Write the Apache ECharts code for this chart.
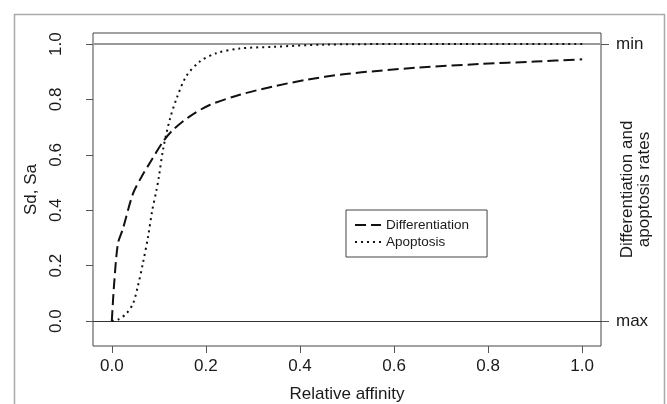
<!DOCTYPE html>
<html>
<head>
<meta charset="utf-8">
<script src="https://cdn.jsdelivr.net/npm/echarts@6/dist/echarts.min.js"></script>
<style>
  html, body { margin: 0; padding: 0; background: #fff; }
  #chart { width: 667px; height: 404px; }
</style>
</head>
<body>
<div id="chart"></div>
<script>
// values
const diffX = [0, 0.005, 0.013, 0.023, 0.045, 0.063, 0.084, 0.109, 0.13, 0.165, 0.208, 0.272, 0.343, 0.414, 0.492, 0.57, 0.65, 0.783, 0.9, 1.0]
const diffY = [0, 0.136, 0.28, 0.33, 0.46, 0.52, 0.58, 0.648, 0.69, 0.738, 0.78, 0.817, 0.847, 0.871, 0.891, 0.904, 0.915, 0.928, 0.937, 0.945]
const apopX = [0, 0.013, 0.031, 0.045, 0.055, 0.066, 0.077, 0.086, 0.095, 0.1, 0.109, 0.123, 0.137, 0.158, 0.187, 0.222, 0.272, 0.343, 0.45, 0.6, 1.0]
const apopY = [0, 0.005, 0.027, 0.063, 0.123, 0.208, 0.304, 0.40, 0.473, 0.52, 0.62, 0.726, 0.80, 0.883, 0.937, 0.967, 0.984, 0.99, 0.998, 1.0, 1.0]
const xTicks = [0, 0.2, 0.4, 0.6, 0.8, 1.0]
const yTicks = [0, 0.2, 0.4, 0.6, 0.8, 1.0]
const rightTicks = [0, 1]
const rightLabels = { 0: 'max', 1: 'min' }

const font = 'Liberation Sans, Arial, sans-serif'
const ink = '#1a1a1a'

const chart = echarts.init(document.getElementById('chart'))

const zip = (xs, ys) => xs.map((x, i) => [x, ys[i]])

chart.setOption({
  animation: false,
  textStyle: { fontFamily: font, color: ink },
  graphic: [{
    type: 'rect',
    shape: { x: 14.5, y: 14.5, width: 650, height: 420 },
    style: { fill: 'none', stroke: '#aaa', lineWidth: 1.5 },
    silent: true
  }],
  grid: {
    left: 93, top: 33, right: 66, bottom: 58,
    outerBoundsMode: 'none',
    containLabel: false,
    show: true, borderColor: '#444', borderWidth: 1, backgroundColor: 'transparent'
  },
  legend: {
    orient: 'vertical',
    left: 346, top: 210,
    padding: [8, 18, 8, 8],
    itemGap: 3,
    itemWidth: 26,
    itemHeight: 10,
    borderColor: '#444',
    borderWidth: 1,
    itemStyle: { opacity: 0 },
    textStyle: { fontFamily: font, fontSize: 13.5, color: ink },
    data: ['Differentiation', 'Apoptosis']
  },
  xAxis: {
    type: 'value',
    min: -0.04, max: 1.04,
    name: 'Relative affinity',
    nameLocation: 'middle',
    nameGap: 40,
    nameTextStyle: { fontFamily: font, fontSize: 17, color: ink },
    splitLine: { show: false },
    axisLine: { show: false, onZero: false },
    axisTick: { show: true, length: 7, lineStyle: { color: '#555' }, customValues: xTicks },
    axisLabel: {
      fontFamily: font, fontSize: 17, color: ink, margin: 12,
      customValues: xTicks,
      formatter: v => v.toFixed(1)
    }
  },
  yAxis: [{
    type: 'value',
    min: -0.09, max: 1.04,
    name: 'Sd, Sa',
    nameLocation: 'middle',
    nameGap: 48,
    nameTextStyle: { fontFamily: font, fontSize: 17, color: ink },
    splitLine: { show: false },
    axisLine: { show: false, onZero: false },
    axisTick: { show: true, length: 7, lineStyle: { color: '#555' }, customValues: yTicks },
    axisLabel: {
      fontFamily: font, fontSize: 17, color: ink, margin: 28, rotate: 90,
      customValues: yTicks,
      formatter: v => v.toFixed(1)
    }
  }, {
    type: 'value',
    position: 'right',
    min: -0.09, max: 1.04,
    name: 'Differentiation and\napoptosis rates',
    nameLocation: 'middle',
    nameRotate: 90,
    nameGap: 18,
    nameMoveOverlap: false,
    nameTextStyle: { fontFamily: font, fontSize: 17, color: ink, lineHeight: 17, align: 'center' },
    splitLine: { show: false },
    axisLine: { show: false, onZero: false },
    axisTick: { show: true, length: 8, lineStyle: { color: '#555' }, customValues: rightTicks },
    axisLabel: {
      fontFamily: font, fontSize: 17, color: ink, margin: 15,
      customValues: rightTicks,
      formatter: v => rightLabels[Math.round(v)]
    }
  }],
  series: [{
    name: 'Differentiation',
    type: 'line',
    data: zip(diffX, diffY),
    showSymbol: false,
    symbol: 'none',
    smooth: 0.3,
    color: '#111',
    lineStyle: { color: '#111', width: 2, type: [11, 5] },
    markLine: {
      silent: true,
      symbol: 'none',
      label: { show: false },
      data: [
        { yAxis: 1, lineStyle: { color: '#999', width: 2, type: 'solid' } },
        { yAxis: 0, lineStyle: { color: '#333', width: 1, type: 'solid' } }
      ]
    }
  }, {
    name: 'Apoptosis',
    type: 'line',
    z: 5,
    data: zip(apopX, apopY),
    showSymbol: false,
    symbol: 'none',
    smooth: 0.3,
    color: '#111',
    lineStyle: { color: '#111', width: 2, type: [2, 4] }
  }]
})
</script>
</body>
</html>
